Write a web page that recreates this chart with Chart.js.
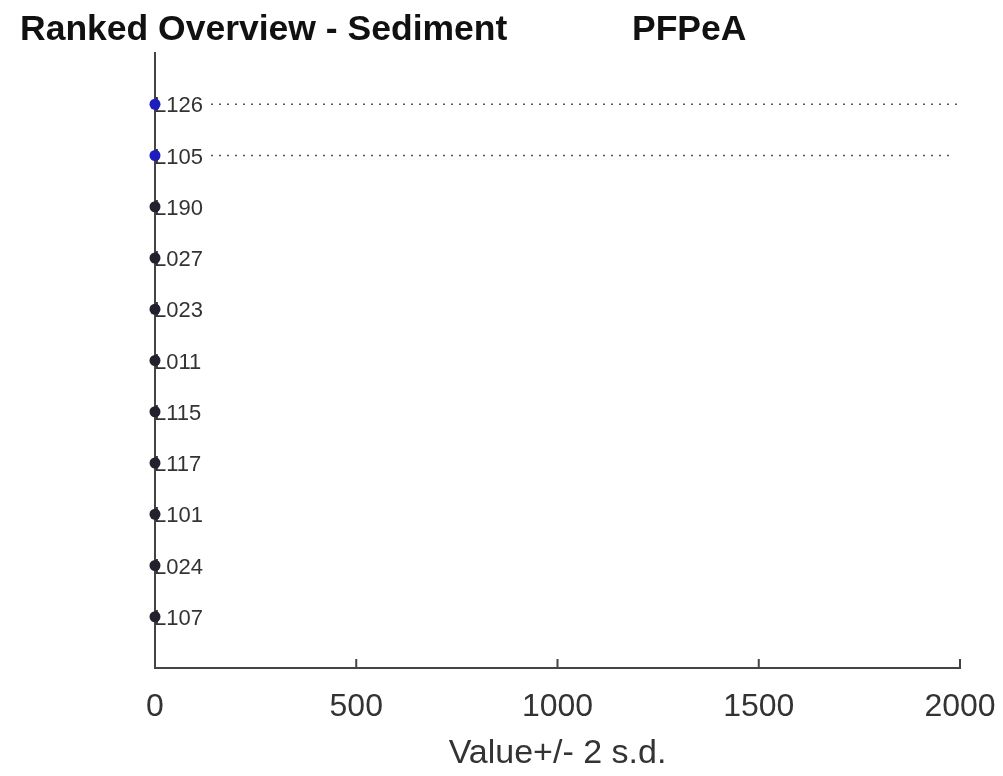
<!DOCTYPE html>
<html>
<head>
<meta charset="utf-8">
<script src="https://cdn.jsdelivr.net/npm/chart.js@4.4.1/dist/chart.umd.min.js"></script>
<style>
  html, body { margin: 0; padding: 0; background: #fff; }
  #wrap { width: 1003px; height: 776px; }
</style>
</head>
<body>
<div id="wrap"><canvas id="rankChart" width="1003" height="776"></canvas></div>
<script>
// Lab codes, ranked top to bottom
const labCodes = ['126', '105', '190', '027', '023', '011', '115', '117', '101', '024', '107'];
// Reported values (all close to zero on this scale)
const labValues = [0, 0, 0, 0, 0, 0, 0, 0, 0, 0, 0];
// Upper end of value + 2 s.d. (only shown where it exists)
const upperLimits = [1994, 1976, null, null, null, null, null, null, null, null, null];
// Which labs are highlighted in blue
const highlighted = [true, true, false, false, false, false, false, false, false, false, false];
const xTicks = [0, 500, 1000, 1500, 2000];

// rank position on the y scale: first lab on top
const rankPos = labCodes.map((c, i) => labCodes.length - i);

const pointData = labCodes.map((c, i) => ({ x: labValues[i], y: rankPos[i] }));
const pointColors = highlighted.map(h => h ? '#1e1ebe' : '#22222e');

const sdDatasets = [];
upperLimits.forEach((u, i) => {
  if (u === null) return;
  sdDatasets.push({
    type: 'line',
    data: [{ x: labValues[i], y: rankPos[i] }, { x: u, y: rankPos[i] }],
    borderColor: '#555',
    borderWidth: 1.5,
    borderDash: [2, 6],
    pointRadius: 0,
    order: 2
  });
});

// title text drawn at the top of the canvas
const titlePlugin = {
  id: 'titles',
  afterDraw(chart) {
    const ctx = chart.ctx;
    ctx.save();
    ctx.fillStyle = '#111';
    ctx.font = 'bold 35.5px "Liberation Sans", Arial, sans-serif';
    ctx.textBaseline = 'alphabetic';
    ctx.textAlign = 'left';
    ctx.fillText('Ranked Overview - Sediment', 20, 40);
    ctx.fillText('PFPeA', 632, 40);
    ctx.restore();
  }
};

// lab labels next to the points, and inward tick marks on the x axis
const labelPlugin = {
  id: 'labLabels',
  afterDatasetsDraw(chart) {
    const ctx = chart.ctx;
    const xs = chart.scales.x, ys = chart.scales.y;
    ctx.save();
    ctx.font = '22px "Liberation Sans", Arial, sans-serif';
    ctx.textBaseline = 'middle';
    ctx.textAlign = 'left';
    labCodes.forEach((code, i) => {
      const px = xs.getPixelForValue(labValues[i]);
      const py = ys.getPixelForValue(rankPos[i]) + 2;
      const txt = 'L' + code;
      const w = ctx.measureText(txt).width;
      ctx.fillStyle = '#fff';
      ctx.fillRect(px + 4, py - 10, w + 2, 20);
      ctx.fillStyle = '#333';
      ctx.fillText(txt, px - 1, py);
    });
    // redraw markers above labels
    const meta = chart.getDatasetMeta(sdDatasets.length);
    meta.data.forEach(el => el.draw(ctx));
    // ticks pointing into the plot
    ctx.strokeStyle = '#444';
    ctx.lineWidth = 2;
    xTicks.forEach(t => {
      const px = xs.getPixelForValue(t);
      ctx.beginPath();
      ctx.moveTo(px, chart.chartArea.bottom);
      ctx.lineTo(px, chart.chartArea.bottom - 9);
      ctx.stroke();
    });
    ctx.restore();
  }
};

document.addEventListener('DOMContentLoaded', function () {
  const ctx = document.getElementById('rankChart').getContext('2d');
  new Chart(ctx, {
    type: 'scatter',
    data: {
      datasets: sdDatasets.concat([{
        type: 'scatter',
        data: pointData,
        backgroundColor: pointColors,
        borderColor: pointColors,
        pointRadius: 5.5,
        pointBorderWidth: 0,
        order: 1
      }])
    },
    options: {
      responsive: false,
      animation: false,
      layout: { padding: { left: 155, right: 43, top: 53, bottom: 5 } },
      plugins: { legend: { display: false }, tooltip: { enabled: false } },
      scales: {
        x: {
          type: 'linear',
          min: 0,
          max: 2000,
          afterBuildTicks: axis => { axis.ticks = xTicks.map(v => ({ value: v })); },
          afterFit: scale => { scale.paddingRight = 0; scale.paddingLeft = 0; },
          grid: { display: true, drawOnChartArea: false, drawTicks: false },
          border: { display: true, color: '#444', width: 2 },
          ticks: {
            font: { size: 32, family: '"Liberation Sans", Arial, sans-serif', lineHeight: 1 },
            color: '#333',
            padding: 23,
            maxRotation: 0,
            callback: v => String(v)
          },
          title: {
            display: true,
            text: 'Value+/- 2 s.d.',
            font: { size: 34, family: '"Liberation Sans", Arial, sans-serif', lineHeight: 1 },
            color: '#333',
            padding: { top: -9, bottom: 0 }
          }
        },
        y: {
          type: 'linear',
          min: 0,
          max: 12,
          grid: { display: false, drawTicks: false },
          border: { display: true, color: '#444', width: 2 },
          ticks: { display: false }
        }
      }
    },
    plugins: [titlePlugin, labelPlugin]
  });
});
</script>
</body>
</html>
